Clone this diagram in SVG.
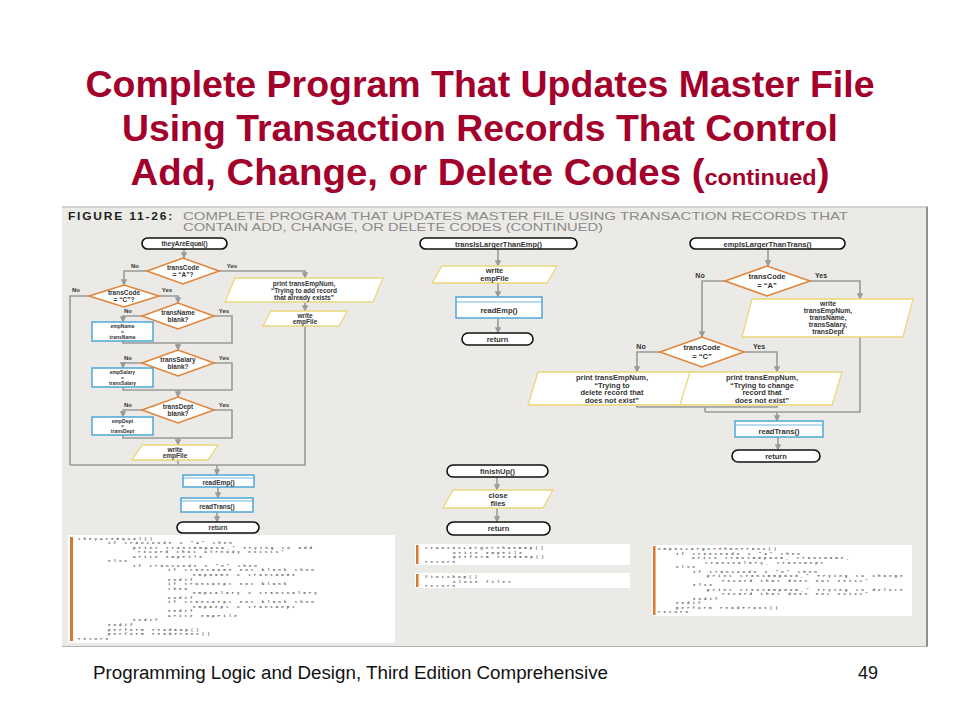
<svg xmlns="http://www.w3.org/2000/svg" width="960" height="720" viewBox="0 0 960 720">
<defs>
<marker id="ah" viewBox="0 0 10 10" refX="9" refY="5" markerWidth="4" markerHeight="4" orient="auto" markerUnits="strokeWidth">
<path d="M0,0 L10,5 L0,10 z" fill="#9a9a9a"/>
</marker>
</defs>
<style>
.title{font-family:"Liberation Sans",Arial,sans-serif;font-weight:bold;fill:#a3002c;font-size:36px}
.foot{font-family:"Liberation Sans",Arial,sans-serif;fill:#111;font-size:18px}
.fig{font-family:"Liberation Sans",Arial,sans-serif;font-weight:bold;font-size:10px;fill:#222;letter-spacing:1.5px}
.cap{font-family:"Liberation Sans",Arial,sans-serif;font-size:11px;fill:#8a8a8a}
.term{fill:#fff;stroke:#111;stroke-width:1.6}
.dec{fill:#fff;stroke:#e2843a;stroke-width:1.6}
.io{fill:#fff;stroke:#e9d77c;stroke-width:1.3}
.proc{fill:#fff;stroke:#4fa6d9;stroke-width:1.5}
.stripe{stroke:#4fa6d9;stroke-width:0.8}
.t{font-family:"Liberation Sans",Arial,sans-serif;font-weight:bold;font-size:6.5px;fill:#333;text-anchor:middle}
.t2{font-family:"Liberation Sans",Arial,sans-serif;font-weight:bold;font-size:7.5px;fill:#333;text-anchor:middle}
.t3{font-family:"Liberation Sans",Arial,sans-serif;font-weight:bold;font-size:6.8px;fill:#333;text-anchor:middle}
.ts{font-family:"Liberation Sans",Arial,sans-serif;font-weight:bold;font-size:5px;fill:#333;text-anchor:middle}
.lbl{font-family:"Liberation Sans",Arial,sans-serif;font-weight:bold;font-size:6px;fill:#333;text-anchor:middle}
.lbl2{font-family:"Liberation Sans",Arial,sans-serif;font-weight:bold;font-size:7px;fill:#333;text-anchor:middle}
.ln{fill:none;stroke:#9a9a9a;stroke-width:1.6}
.ar{fill:none;stroke:#9a9a9a;stroke-width:1.6;marker-end:url(#ah)}
.codebox{fill:#fff}
.bar{fill:#d9772e}
.code{font-family:"Liberation Mono","Courier New",monospace;font-size:4.2px;letter-spacing:3px;fill:#555;font-weight:bold}
</style>
<rect width="960" height="720" fill="#fff"/>
<g id="title">
<text class="title" x="480" y="97" text-anchor="middle" textLength="789" lengthAdjust="spacingAndGlyphs">Complete Program That Updates Master File</text>
<text class="title" x="480" y="141" text-anchor="middle" textLength="716" lengthAdjust="spacingAndGlyphs">Using Transaction Records That Control</text>
<text class="title" x="480" y="185" text-anchor="middle" textLength="699" lengthAdjust="spacingAndGlyphs">Add, Change, or Delete Codes (<tspan font-size="22px">continued</tspan>)</text>
</g>
<g id="figure">
<rect x="62" y="206" width="866" height="441" fill="#ebeae6"/>
<line x1="62" y1="207" x2="928" y2="207" stroke="#b5b5b5" stroke-width="1.2"/>
<line x1="927" y1="207" x2="927" y2="647" stroke="#8e8e8e" stroke-width="2"/>
<line x1="62" y1="646.5" x2="928" y2="646.5" stroke="#b5b5b5" stroke-width="1"/>
<text class="fig" x="68" y="220" textLength="106" lengthAdjust="spacingAndGlyphs">FIGURE 11-26:</text>
<text class="cap" x="183" y="220" textLength="665" lengthAdjust="spacingAndGlyphs">COMPLETE PROGRAM THAT UPDATES MASTER FILE USING TRANSACTION RECORDS THAT</text>
<text class="cap" x="183" y="231" textLength="420" lengthAdjust="spacingAndGlyphs">CONTAIN ADD, CHANGE, OR DELETE CODES (CONTINUED)</text>
</g>
<g id="connectors">
<path class="ar" d="M184,249 V258"/>
<path class="ar" d="M147,271 H124 V285"/>
<path class="ar" d="M219,271 H305 V278"/>
<path class="ln" d="M89,296 H70 V465"/>
<path class="ar" d="M159,296 H178 V303"/>
<path class="ar" d="M142,316 H123 V322"/>
<path class="ln" d="M214,316 H232 V343 H123 V341"/>
<path class="ar" d="M178,343 V350"/>
<path class="ar" d="M142,363 H123 V368"/>
<path class="ln" d="M214,363 H232 V390 H123 V387"/>
<path class="ar" d="M178,390 V397"/>
<path class="ar" d="M142,410 H123 V417"/>
<path class="ln" d="M214,410 H232 V438 H123 V435"/>
<path class="ar" d="M178,438 V445"/>
<path class="ln" d="M178,460 V465"/>
<path class="ar" d="M305,302 V311"/>
<path class="ln" d="M305,326 V465 H70"/>
<path class="ar" d="M217,465 V475"/>
<path class="ar" d="M218,487 V498"/>
<path class="ar" d="M217,512 V522"/>
<path class="ar" d="M498,249 V266"/>
<path class="ar" d="M498,283 V297"/>
<path class="ar" d="M498,318 V333"/>
<path class="ar" d="M497,477 V490"/>
<path class="ar" d="M497,508 V522"/>
<path class="ar" d="M768,249 V266"/>
<path class="ar" d="M725,281 H702 V337"/>
<path class="ar" d="M810,281 H860 V299"/>
<path class="ln" d="M860,337 V412 H705"/>
<path class="ar" d="M660,352 H637 V372"/>
<path class="ar" d="M744,352 H777 V372"/>
<path class="ln" d="M637,405 V407 H777 V405"/>
<path class="ln" d="M705,407 V412"/>
<path class="ar" d="M777,412 V421"/>
<path class="ar" d="M778,437 V450"/>
</g>
<g id="labels">
<text class="lbl" x="135" y="268">No</text>
<text class="lbl" x="232" y="268">Yes</text>
<text class="lbl" x="76" y="292">No</text>
<text class="lbl" x="167" y="292">Yes</text>
<text class="lbl" x="128" y="313">No</text>
<text class="lbl" x="224" y="313">Yes</text>
<text class="lbl" x="128" y="360">No</text>
<text class="lbl" x="224" y="360">Yes</text>
<text class="lbl" x="128" y="407">No</text>
<text class="lbl" x="224" y="407">Yes</text>
<text class="lbl2" x="700" y="278">No</text>
<text class="lbl2" x="821" y="278">Yes</text>
<text class="lbl2" x="641" y="349">No</text>
<text class="lbl2" x="759" y="349">Yes</text>
</g>
<g id="theyAreEqual">
<rect class="term" x="142" y="238" width="85" height="11" rx="5.5"/>
<text class="t" x="184.5" y="246">theyAreEqual()</text>
</g>
<g id="decA1">
<polygon class="dec" points="147,271 183,258 219,271 183,284"/>
<text class="t" x="183" y="269.5">transCode</text>
<text class="t" x="183" y="277">= “A”?</text>
</g>
<g id="decC1">
<polygon class="dec" points="89,296 124,285 159,296 124,307"/>
<text class="t" x="124" y="294.5">transCode</text>
<text class="t" x="124" y="302">= “C”?</text>
</g>
<g id="decName">
<polygon class="dec" points="142,316 178,303 214,316 178,329"/>
<text class="t" x="178" y="314.5">transName</text>
<text class="t" x="178" y="322">blank?</text>
</g>
<g id="setName">
<rect class="proc" x="92" y="322" width="61" height="19"/>
<text class="ts" x="122.5" y="328">empName</text>
<text class="ts" x="122.5" y="333.5">=</text>
<text class="ts" x="122.5" y="339">transName</text>
</g>
<g id="decSalary">
<polygon class="dec" points="142,363 178,350 214,363 178,376"/>
<text class="t" x="178" y="361.5">transSalary</text>
<text class="t" x="178" y="369">blank?</text>
</g>
<g id="setSalary">
<rect class="proc" x="92" y="368" width="61" height="19"/>
<text class="ts" x="122.5" y="374">empSalary</text>
<text class="ts" x="122.5" y="379.5">=</text>
<text class="ts" x="122.5" y="385">transSalary</text>
</g>
<g id="decDept">
<polygon class="dec" points="142,410 178,397 214,410 178,423"/>
<text class="t" x="178" y="408.5">transDept</text>
<text class="t" x="178" y="416">blank?</text>
</g>
<g id="setDept">
<rect class="proc" x="92" y="417" width="61" height="18"/>
<text class="ts" x="122.5" y="423">empDept</text>
<text class="ts" x="122.5" y="428">=</text>
<text class="ts" x="122.5" y="433">transDept</text>
</g>
<g id="writeEmp1">
<polygon class="io" points="142,445 218,445 208,460 132,460"/>
<text class="t" x="175" y="451.5">write</text>
<text class="t" x="175" y="458">empFile</text>
</g>
<g id="printAdd">
<polygon class="io" points="235,278 383,278 373,302 225,302"/>
<text class="t" x="304" y="285.5">print transEmpNum,</text>
<text class="t" x="304" y="292.5">“Trying to add record</text>
<text class="t" x="304" y="299.5">that already exists”</text>
</g>
<g id="writeEmp2">
<polygon class="io" points="271,311 347,311 339,326 263,326"/>
<text class="t" x="305" y="317.5">write</text>
<text class="t" x="305" y="324">empFile</text>
</g>
<g id="readEmp1">
<rect class="proc" x="183" y="475" width="71" height="12"/>
<line class="stripe" x1="183" y1="478" x2="254" y2="478"/>
<text class="t" x="218.5" y="484.5">readEmp()</text>
</g>
<g id="readTrans1">
<rect class="proc" x="181" y="498" width="72" height="14"/>
<line class="stripe" x1="181" y1="501" x2="253" y2="501"/>
<text class="t" x="217" y="508.5">readTrans()</text>
</g>
<g id="return1">
<rect class="term" x="177" y="522" width="82" height="11" rx="5.5"/>
<text class="t" x="218" y="530">return</text>
</g>
<g id="transIsLarger">
<rect class="term" x="420" y="238" width="157" height="11" rx="5.5"/>
<text class="t2" x="498.5" y="246.5">transIsLargerThanEmp()</text>
</g>
<g id="writeEmp3">
<polygon class="io" points="442,266 557,266 547,283 432,283"/>
<text class="t2" x="494.5" y="273">write</text>
<text class="t2" x="494.5" y="281">empFile</text>
</g>
<g id="readEmp2">
<rect class="proc" x="456" y="297" width="86" height="21"/>
<line class="stripe" x1="456" y1="302" x2="542" y2="302"/>
<text class="t2" x="499" y="313">readEmp()</text>
</g>
<g id="return2">
<rect class="term" x="462" y="333" width="71" height="12" rx="6"/>
<text class="t2" x="497.5" y="341.5">return</text>
</g>
<g id="finishUp">
<rect class="term" x="447" y="465" width="101" height="12" rx="6"/>
<text class="t2" x="497.5" y="473.5">finishUp()</text>
</g>
<g id="closeFiles">
<polygon class="io" points="453,490 553,490 543,508 443,508"/>
<text class="t2" x="498" y="497.5">close</text>
<text class="t2" x="498" y="505.5">files</text>
</g>
<g id="return3">
<rect class="term" x="447" y="522" width="103" height="13" rx="6.5"/>
<text class="t2" x="498.5" y="531">return</text>
</g>
<g id="empIsLarger">
<rect class="term" x="690" y="238" width="155" height="11" rx="5.5"/>
<text class="t2" x="767.5" y="246.5">empIsLargerThanTrans()</text>
</g>
<g id="decA2">
<polygon class="dec" points="725,281 767,266 810,281 767,296"/>
<text class="t2" x="767" y="279">transCode</text>
<text class="t2" x="767" y="287.5">= “A”</text>
</g>
<g id="writeTrans">
<polygon class="io" points="752,299 913,299 903,337 742,337"/>
<text class="t3" x="828" y="306">write</text>
<text class="t3" x="828" y="313">transEmpNum,</text>
<text class="t3" x="828" y="320">transName,</text>
<text class="t3" x="828" y="327">transSalary,</text>
<text class="t3" x="828" y="334">transDept</text>
</g>
<g id="decC2">
<polygon class="dec" points="660,352 702,337 744,352 702,367"/>
<text class="t2" x="702" y="350">transCode</text>
<text class="t2" x="702" y="358.5">= “C”</text>
</g>
<g id="printDelete">
<polygon class="io" points="538,372 695,372 685,405 528,405"/>
<text class="t2" x="612" y="380">print transEmpNum,</text>
<text class="t2" x="612" y="387.5">“Trying to</text>
<text class="t2" x="612" y="395">delete record that</text>
<text class="t2" x="612" y="402.5">does not exist”</text>
</g>
<g id="printChange">
<polygon class="io" points="690,372 842,372 832,405 680,405"/>
<text class="t2" x="762" y="380">print transEmpNum,</text>
<text class="t2" x="762" y="387.5">“Trying to change</text>
<text class="t2" x="762" y="395">record that</text>
<text class="t2" x="762" y="402.5">does not exist”</text>
</g>
<g id="readTrans2">
<rect class="proc" x="735" y="421" width="88" height="16"/>
<line class="stripe" x1="735" y1="425" x2="823" y2="425"/>
<text class="t2" x="779" y="433.5">readTrans()</text>
</g>
<g id="return4">
<rect class="term" x="732" y="450" width="88" height="12" rx="6"/>
<text class="t2" x="776" y="458.5">return</text>
</g>
<g id="code1">
<rect class="codebox" x="68" y="535" width="327" height="108"/>
<rect class="bar" x="70" y="537" width="3" height="104"/>
<text class="code" x="78" y="539.5">theyAreEqual()</text>
<text class="code" x="108" y="544">if transCode = "A" then</text>
<text class="code" x="133" y="548.6">print transEmpNum," Trying to add</text>
<text class="code" x="138" y="553.2">record that already exists"</text>
<text class="code" x="133" y="557.7">write empFile</text>
<text class="code" x="108" y="562.3">else</text>
<text class="code" x="133" y="566.8">if transCode = "C" then</text>
<text class="code" x="168" y="571.4">if transName not blank then</text>
<text class="code" x="193" y="575.9">empName = transName</text>
<text class="code" x="168" y="580.5">endif</text>
<text class="code" x="168" y="585">if transDept not blank</text>
<text class="code" x="168" y="589.6">then</text>
<text class="code" x="193" y="594.1">empSalary = transSalary</text>
<text class="code" x="168" y="598.7">endif</text>
<text class="code" x="168" y="603.2">if transDept not blank then</text>
<text class="code" x="193" y="607.8">empDept = transDept</text>
<text class="code" x="168" y="612.3">endif</text>
<text class="code" x="168" y="616.9">write empFile</text>
<text class="code" x="133" y="621.4">endif</text>
<text class="code" x="108" y="626">endif</text>
<text class="code" x="108" y="630.5">perform readEmp()</text>
<text class="code" x="108" y="635.1">perform readTrans()</text>
<text class="code" x="78" y="639.6">return</text>
</g>
<g id="code2">
<rect class="codebox" x="415" y="544" width="215" height="21"/>
<rect class="bar" x="416" y="545" width="2.5" height="19"/>
<text class="code" x="425" y="549">transIsLargerThanEmp()</text>
<text class="code" x="453" y="553.5">write empFile</text>
<text class="code" x="453" y="558">perform readEmp()</text>
<text class="code" x="425" y="562.5">return</text>
</g>
<g id="code3">
<rect class="codebox" x="415" y="573" width="215" height="15"/>
<rect class="bar" x="416" y="574" width="2.5" height="13"/>
<text class="code" x="425" y="578">finishUp()</text>
<text class="code" x="453" y="582.5">close files</text>
<text class="code" x="425" y="587">return</text>
</g>
<g id="code4">
<rect class="codebox" x="652" y="545" width="260" height="71"/>
<rect class="bar" x="653" y="546" width="2.5" height="69"/>
<text class="code" x="658" y="550">empIsLargerThanTrans()</text>
<text class="code" x="676" y="554.5">if transCode = "A" then</text>
<text class="code" x="692" y="559">write transEmpNum, transName,</text>
<text class="code" x="705" y="563.5">transSalary, transDept</text>
<text class="code" x="676" y="568">else</text>
<text class="code" x="693" y="572.5">if transCode = "C" then</text>
<text class="code" x="707" y="577">print transEmpNum," Trying to change</text>
<text class="code" x="722" y="581.5">record that does not exist"</text>
<text class="code" x="693" y="586">else</text>
<text class="code" x="707" y="590.5">print transEmpNum," Trying to delete</text>
<text class="code" x="722" y="595">record that does not exist"</text>
<text class="code" x="693" y="599.5">endif</text>
<text class="code" x="676" y="604">endif</text>
<text class="code" x="676" y="608.5">perform readTrans()</text>
<text class="code" x="658" y="613">return</text>
</g>
<g id="footer">
<text class="foot" x="93" y="679" textLength="515" lengthAdjust="spacingAndGlyphs">Programming Logic and Design, Third Edition Comprehensive</text>
<text class="foot" x="858" y="679" textLength="20" lengthAdjust="spacingAndGlyphs">49</text>
</g>
</svg>
